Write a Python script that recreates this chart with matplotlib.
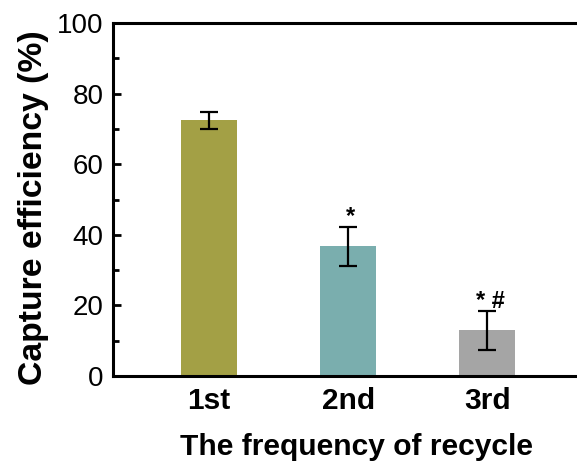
import matplotlib
matplotlib.use("Agg")
import matplotlib.pyplot as plt
from matplotlib.ticker import MultipleLocator

categories = ["1st", "2nd", "3rd"]
values = [72.4, 36.7, 12.9]
errors = [2.3, 5.6, 5.4]
colors = ["#A3A045", "#7AAEAE", "#A5A5A5"]
marks = ["", "*", "* #"]

plt.rcParams['font.family'] = ['Liberation Sans', 'DejaVu Sans']

fig = plt.figure(figsize=(5.77, 4.70), dpi=100)
W, H = 577, 470
left, bottom, top, right = 113, 376, 23, 600
aw, ah = right - left, bottom - top
ax = fig.add_axes([left / W, (H - bottom) / H, aw / W, ah / H])

x = list(range(len(categories)))
ax.bar(x, values, width=0.4, color=colors, zorder=2)
ax.errorbar(x, values, yerr=errors, fmt='none', ecolor='black', elinewidth=1.6,
            capsize=6.5, capthick=1.6, zorder=3)
for xi, v, e, m in zip(x, values, errors, marks):
    if m:
        ax.text(xi + 0.02, v + e + 1.0, m, ha='center', va='baseline', fontsize=17,
                fontweight='bold')

ax.set_xlim(-0.69, 2.81)
ax.set_ylim(0, 100)
ax.set_xticks(x)
ax.set_xticklabels(categories, fontsize=21.5, fontweight='bold')
ax.yaxis.set_major_locator(MultipleLocator(20))
ax.yaxis.set_minor_locator(MultipleLocator(10))
ax.tick_params(axis='y', which='major', direction='in', length=6, width=2, labelsize=20, pad=7)
ax.tick_params(axis='y', which='minor', direction='in', length=4, width=2)
ax.tick_params(axis='x', which='both', length=0, pad=8)
for s in ['left', 'bottom', 'top', 'right']:
    ax.spines[s].set_linewidth(2.2)
ax.set_ylabel("Capture efficiency (%)", fontsize=24.3, fontweight='bold')
ax.yaxis.set_label_coords((49 - left) / aw, (bottom - 207.5) / ah)
ax.set_xlabel("The frequency of recycle", fontsize=21.6, fontweight='bold')
ax.xaxis.set_label_coords((356 - left) / aw, -(433 - bottom) / ah)

fig.savefig("out.png", dpi=100)
